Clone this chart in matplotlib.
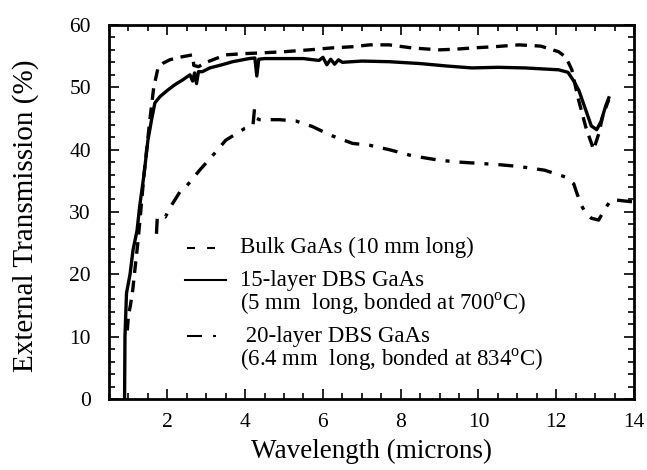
import matplotlib
matplotlib.use("Agg")
import matplotlib.pyplot as plt
from matplotlib.ticker import MultipleLocator

plt.rcParams['font.family'] = ['Liberation Serif', 'DejaVu Serif']
plt.rcParams['mathtext.fontset'] = 'custom'
plt.rcParams['mathtext.rm'] = 'Liberation Serif'

# bulk GaAs (10 mm long)
bulk_x = [0.97, 1.0, 1.05, 1.11, 1.17, 1.24, 1.3, 1.4, 1.55, 1.65, 1.76, 1.9, 2.06, 2.3,
          2.65, 2.68, 2.8, 3.0, 3.5, 4.0, 4.37, 5.0, 5.65, 6.2, 6.76, 7.2, 7.7, 8.3, 8.99,
          9.4, 9.83, 10.4, 11.04, 11.6, 12.06, 12.25, 12.4, 12.55, 12.76, 12.96, 13.09,
          13.2, 13.35]
bulk_y = [11, 13.5, 15, 17.5, 21, 25, 29, 36, 44.8, 50, 53.1, 53.9, 54.4, 54.8,
          55.2, 53.5, 53.3, 54, 55.2, 55.4, 55.5, 55.7, 56, 56.3, 56.5, 56.8, 56.8, 56.3, 56,
          56.1, 56.3, 56.5, 56.8, 56.6, 55.7, 54.8, 52.8, 48.5, 43.6, 40, 42.5,
          45.5, 48]

# 15-layer DBS GaAs
dbs15_x = [0.9, 0.91, 0.95, 1.04, 1.12, 1.22, 1.29, 1.4, 1.5, 1.6, 1.68, 1.81, 2.0, 2.19, 2.4,
           2.58, 2.65, 2.7, 2.75, 2.8, 2.9, 3.09, 3.4, 3.68, 4.1, 4.25, 4.3, 4.35, 4.5, 5.0,
           5.5, 5.9, 6.0, 6.1, 6.2, 6.3, 6.4, 6.5, 7.0, 7.7, 8.5, 9.2, 9.83, 10.5, 11.2,
           12.06, 12.3, 12.45, 12.58, 12.75, 12.9, 13.04, 13.15, 13.27, 13.35]
dbs15_y = [0, 10, 17, 20, 24, 27, 31, 36, 41.5, 45, 47.5, 48.5, 49.5, 50.4, 51.2,
           52, 51, 52.3, 50.6, 52.5, 52.5, 53.1, 53.6, 54.1, 54.6, 54.7, 51.8, 54.5, 54.6, 54.6,
           54.6, 54.3, 54.8, 53.6, 54.5, 53.7, 54.4, 54.0, 54.2, 54.1, 53.8, 53.4, 53.1, 53.2, 53.1,
           52.8, 52.4, 51, 49.5, 46.5, 43.8, 43.2, 44.5, 47, 48.3]

# 20-layer DBS GaAs
dbs20_x = [1.72, 1.74, 1.85, 1.95, 2.05, 2.14, 2.32, 2.5, 2.83, 3.2, 3.5, 3.99, 4.2, 4.24,
           4.3, 4.37, 4.88, 5.3, 5.73, 6.2, 6.76, 7.2, 7.7, 8.3, 8.99, 9.5, 10.0, 10.5,
           11.04, 11.7, 12.24, 12.45, 12.53, 12.65, 12.76, 12.9, 13.09, 13.25, 13.42, 13.7, 14.0]
dbs20_y = [26.5, 29, 29.5, 29.2, 30.5, 31.4, 33.2, 34.2, 36.7, 39.3, 41.5, 43.4, 43.8, 46.5,
           45, 44.8, 44.8, 44.6, 43.7, 42.3, 41, 40.7, 40, 39, 38.3, 38, 37.8, 37.6,
           37.3, 36.7, 35.6, 34.5, 33, 31, 29.8, 29, 28.7, 30.5, 32, 31.8, 31.6]

labels = [["Bulk GaAs (10 mm long)"],
          ["15-layer DBS GaAs", "(5 mm  long, bonded at 700$^{\\mathrm{o}}$C)"],
          [" 20-layer DBS GaAs", "(6.4 mm  long, bonded at 834$^{\\mathrm{o}}$C)"]]

fig = plt.figure(figsize=(6.47, 4.7), dpi=100)
ax = fig.add_axes([0.1685, 0.151, 0.8115, 0.796])

ax.plot(bulk_x, bulk_y, color='black', lw=2.4, dashes=(3.5, 2.3))
ax.plot(dbs15_x, dbs15_y, color='black', lw=2.4)
ax.plot(dbs20_x, dbs20_y, color='black', lw=2.4, dashes=(4.5, 3, 1.2, 3))

ax.set_xlim(0.5, 14)
ax.set_ylim(0, 60)
ax.xaxis.set_major_locator(MultipleLocator(2))
ax.xaxis.set_minor_locator(MultipleLocator(0.5))
ax.yaxis.set_major_locator(MultipleLocator(10))
ax.yaxis.set_minor_locator(MultipleLocator(2))
ax.tick_params(which='both', direction='in', top=True, right=True, width=1.2)
ax.tick_params(which='major', length=7, labelsize=15.5)
ax.tick_params(axis='x', which='major', pad=10)
ax.tick_params(axis='y', which='major', pad=13)
ax.tick_params(which='minor', length=4)
for s in ax.spines.values():
    s.set_linewidth(2)

ax.set_xlabel("Wavelength (microns)", fontsize=19.5, labelpad=5)
ax.set_ylabel("External Transmission (%)", fontsize=21)
ax.yaxis.set_label_coords(-0.134, 0.49)

# legend drawn by hand so the sample sits beside the first line of each label
samples = [([0.149, 0.202], dict(dashes=(3.85, 5.8))),
           ([0.145, 0.223], dict()),
           ([0.149, 0.205], dict(dashes=(7.2, 5.3, 1.4, 9)))]
rows = [0.404, 0.318, 0.168]
gap = 0.064
for (xs, st), lines, yr in zip(samples, labels, rows):
    ax.plot(xs, [yr, yr], transform=ax.transAxes, color='black', lw=1.5, **st)
    for i, txt in enumerate(lines):
        ax.text(0.25, yr - i * gap, txt, transform=ax.transAxes, fontsize=16.5,
                va='center', ha='left')

fig.savefig("out.png", dpi=100)
